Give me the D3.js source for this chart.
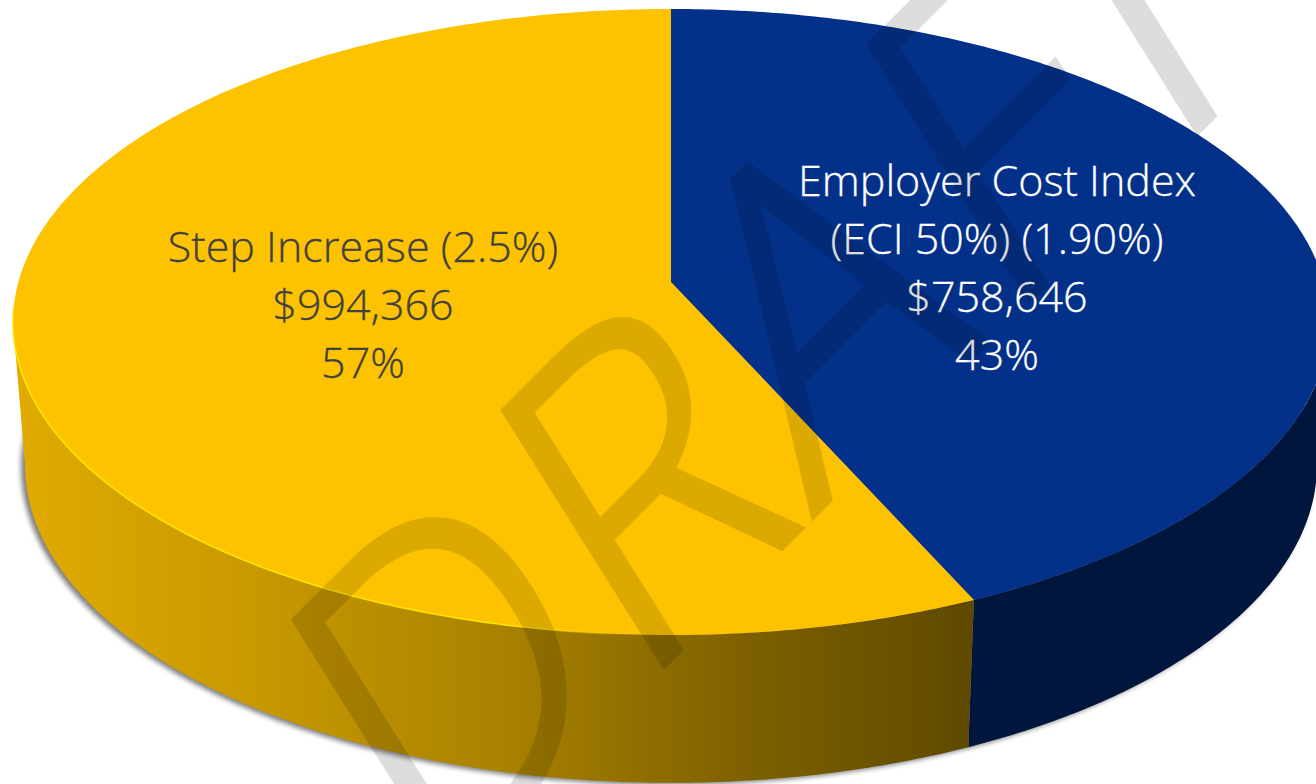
<!DOCTYPE html>
<html>
<head>
<meta charset="utf-8">
<script src="https://cdn.jsdelivr.net/npm/d3@7"></script>
<style>
html, body { margin: 0; padding: 0; background: #fff; overflow: hidden; }
svg { display: block; }
</style>
</head>
<body>
<div id="chart"></div>
<script>
var categories = ["Employer Cost Index (ECI 50%) (1.90%)", "Step Increase (2.5%)"];
var values = [758646, 994366];
var labelLines = [
	["Employer Cost Index", "(ECI 50%) (1.90%)", "$758,646", "43%"],
	["Step Increase (2.5%)", "$994,366", "57%"]
];
var topColors = ["#03318a", "#fdc300"];
var textColors = ["#ffffff", "#404040"];
var wallStops = [[0, "#e0aa00"], [0.25, "#c79800"], [0.5, "#aa8200"], [0.75, "#7f6100"], [1, "#5e4900"]];

var width = 1316, height = 784;
var k = 0.1278; // perspective strength of the tilted disc

// top face and bottom rim of the disc, as seen in the picture
var topRim = { cx: 671, cy: 282, rx: 652.6, ry: 307.9 };
var botRim = { cx: 671, cy: 424.4, rx: 640.7, ry: 312.6 };

function project(rim, angle, r) {
	if (r === undefined) r = 1;
	var x = Math.sin(angle) * r, y = -Math.cos(angle) * r;
	var w = 1 - k * y;
	return [rim.cx + rim.rx * x / w, rim.cy + rim.ry * y / w];
}
function sample(a0, a1) {
	var n = Math.max(2, Math.ceil(Math.abs(a1 - a0) / 0.01));
	return d3.range(n + 1).map(function(i) { return a0 + (a1 - a0) * i / n; });
}

var line = d3.line();
var arcs = d3.pie().sort(null).value(function(d) { return d; })(values);

var svg = d3.select("#chart").append("svg")
	.attr("width", width)
	.attr("height", height);

var defs = svg.append("defs");
defs.append("filter").attr("id", "soft")
	.attr("x", "-5%").attr("y", "-5%").attr("width", "110%").attr("height", "110%")
	.append("feGaussianBlur").attr("stdDeviation", 2.6);

var wallGrad = defs.append("linearGradient").attr("id", "wallGold")
	.attr("gradientUnits", "userSpaceOnUse")
	.attr("x1", 25).attr("x2", 974).attr("y1", 0).attr("y2", 0);
wallGrad.selectAll("stop").data(wallStops).enter().append("stop")
	.attr("offset", function(d) { return d[0]; })
	.attr("stop-color", function(d) { return d[1]; });

var rimGrad = defs.append("linearGradient").attr("id", "rimGlow")
	.attr("gradientUnits", "userSpaceOnUse")
	.attr("x1", 13).attr("x2", 640).attr("y1", 0).attr("y2", 0);
rimGrad.append("stop").attr("offset", 0).attr("stop-color", "#ffe600").attr("stop-opacity", 0.95);
rimGrad.append("stop").attr("offset", 0.8).attr("stop-color", "#ffe600").attr("stop-opacity", 0.95);
rimGrad.append("stop").attr("offset", 1).attr("stop-color", "#ffe600").attr("stop-opacity", 0);

// soft shadow under the disc
svg.append("path")
	.attr("d", line(sample(0, 2 * Math.PI).map(function(a) { return project(botRim, a); })) + "Z")
	.attr("transform", "translate(-4,2)")
	.attr("fill", "#000")
	.attr("fill-opacity", 0.5)
	.attr("filter", "url(#soft)");

// side walls, only the part that faces the viewer
var wallFrom = Math.acos(-k), wallTo = 2 * Math.PI - wallFrom;
var wallFills = ["#00163c", "url(#wallGold)"];
arcs.forEach(function(d, i) {
	var a0 = Math.max(d.startAngle, wallFrom), a1 = Math.min(d.endAngle, wallTo);
	var angles = sample(a0, a1);
	var upper = angles.map(function(a) { return project(topRim, a); });
	var lower = angles.slice().reverse().map(function(a) { return project(botRim, a); });
	svg.append("path")
		.attr("d", line(upper.concat(lower)) + "Z")
		.attr("fill", wallFills[i]);
});

// top face
arcs.forEach(function(d, i) {
	var pts = [[topRim.cx, topRim.cy]].concat(sample(d.startAngle, d.endAngle).map(function(a) { return project(topRim, a); }));
	svg.append("path")
		.attr("d", line(pts) + "Z")
		.attr("fill", topColors[i]);
});

// thin bright edge along the gold rim
svg.append("path")
	.attr("d", line(sample(wallTo + 0.05, Math.PI + 0.05).map(function(a) { return project(topRim, a); })))
	.attr("fill", "none")
	.attr("stroke", "url(#rimGlow)")
	.attr("stroke-width", 1.6);

// labels
var labelX = [997, 363];
var labelY = [195.5, 261.5];
var lineStep = 58;
labelLines.forEach(function(lines, i) {
	var t = svg.append("text")
		.attr("text-anchor", "middle")
		.attr("font-family", "'Open Sans', sans-serif")
		.attr("font-weight", 300)
		.attr("font-size", 43)
		.attr("fill", textColors[i])
		.attr("stroke", textColors[i])
		.attr("stroke-width", 0.3);
	lines.forEach(function(s, j) {
		t.append("tspan")
			.attr("x", labelX[i])
			.attr("y", labelY[i] + j * lineStep)
			.text(s);
	});
});

// watermark
svg.append("text")
	.attr("transform", "matrix(0.714,-0.714,0.557,0.886,424,904)")
	.attr("font-family", "'Open Sans', sans-serif")
	.attr("font-weight", 300)
	.attr("font-size", 400)
	.attr("dx", "3 11 12 22 -20")
	.attr("fill", "#000")
	.attr("stroke", "#000")
	.attr("stroke-width", 8)
	.attr("opacity", 0.13)
	.text("DRAFT");
</script>
</body>
</html>
